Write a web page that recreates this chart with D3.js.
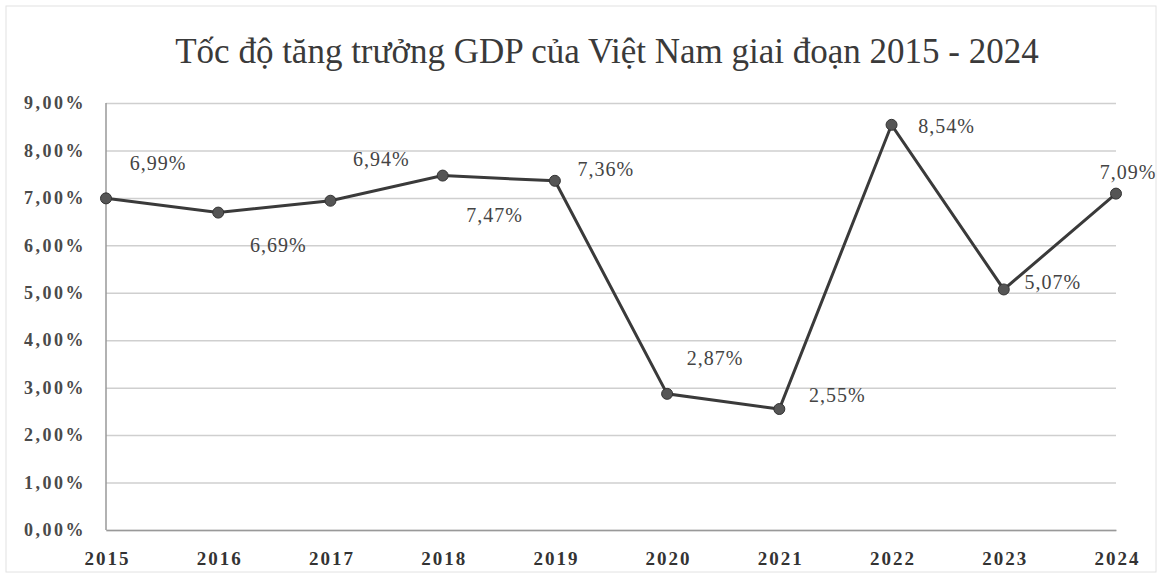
<!DOCTYPE html>
<html>
<head>
<meta charset="utf-8">
<script src="https://cdn.jsdelivr.net/npm/d3@7"></script>
<style>
  body { margin: 0; background: #fff; }
  svg { display: block; }
</style>
</head>
<body>
<svg id="chart"></svg>
<script>
const years = ["2015", "2016", "2017", "2018", "2019", "2020", "2021", "2022", "2023", "2024"];
const growth = [6.99, 6.69, 6.94, 7.47, 7.36, 2.87, 2.55, 8.54, 5.07, 7.09];
const yTicks = [0, 1, 2, 3, 4, 5, 6, 7, 8, 9];
// label offsets relative to each point (dx, dy)
const labelOffsets = [[52, -33], [60, 35], [51, -39], [52, 42], [51, -9], [48, -33], [58, -12], [55, 4], [49, -5], [12, -19]];

const width = 1162, height = 578;
const margin = { top: 103, right: 46, bottom: 48, left: 106 };
const innerW = width - margin.left - margin.right;
const innerH = height - margin.top - margin.bottom;

const fmt = v => v.toFixed(2).replace(".", ",") + "%";

const svg = d3.select("#chart")
    .attr("width", width)
    .attr("height", height);

// outer frame
svg.append("rect")
    .attr("x", 6).attr("y", 6)
    .attr("width", width - 12).attr("height", height - 12)
    .attr("fill", "#fff")
    .attr("stroke", "#e2e2e2");

// title
svg.append("text")
    .attr("x", 607)
    .attr("y", 63)
    .attr("text-anchor", "middle")
    .style("font-family", "'Liberation Serif', serif")
    .style("font-size", "35px")
    .attr("fill", "#3a3a3a")
    .text("Tốc độ tăng trưởng GDP của Việt Nam giai đoạn 2015 - 2024");

const g = svg.append("g")
    .attr("transform", `translate(${margin.left}, ${margin.top})`);

const x = d3.scalePoint()
    .domain(years)
    .range([0, innerW]);

const y = d3.scaleLinear()
    .domain([0, 9])
    .range([innerH, 0]);

// gridlines + y labels
const yAxis = g.append("g")
    .call(d3.axisLeft(y).tickValues(yTicks).tickSize(-innerW).tickPadding(20).tickFormat(d => fmt(d)));
yAxis.select(".domain").remove();
yAxis.selectAll(".tick line")
    .attr("stroke", "#cfcfcf")
    .attr("stroke-width", 1.5);
yAxis.selectAll("text")
    .style("font-family", "'Liberation Serif', serif")
    .style("font-size", "18px")
    .style("font-weight", "bold")
    .style("letter-spacing", "2.5px")
    .attr("fill", "#4a4a4a");

// left axis line
g.append("line")
    .attr("x1", 0).attr("x2", 0)
    .attr("y1", 0).attr("y2", innerH)
    .attr("stroke", "#999")
    .attr("stroke-width", 1.5);

// x axis
const xAxis = g.append("g")
    .attr("transform", `translate(0, ${innerH})`)
    .call(d3.axisBottom(x).tickSize(0).tickPadding(22));
xAxis.select(".domain").attr("stroke", "#999").attr("stroke-width", 1.5);
xAxis.selectAll("text")
    .style("font-family", "'Liberation Serif', serif")
    .style("font-size", "19px")
    .style("font-weight", "bold")
    .style("letter-spacing", "2px")
    .attr("dx", "1px")
    .attr("fill", "#333");

const data = years.map((yr, i) => ({ year: yr, value: growth[i], off: labelOffsets[i] }));

// line
g.append("path")
    .datum(data)
    .attr("fill", "none")
    .attr("stroke", "#3a3a3a")
    .attr("stroke-width", 3)
    .attr("d", d3.line().x(d => x(d.year)).y(d => y(d.value)));

// markers
g.selectAll(".dot")
    .data(data)
    .enter()
    .append("circle")
    .attr("class", "dot")
    .attr("cx", d => x(d.year))
    .attr("cy", d => y(d.value))
    .attr("r", 5.5)
    .attr("fill", "#555")
    .attr("stroke", "#333")
    .attr("stroke-width", 1);

// data labels
g.selectAll(".lbl")
    .data(data)
    .enter()
    .append("text")
    .attr("class", "lbl")
    .attr("x", d => x(d.year) + d.off[0])
    .attr("y", d => y(d.value) + d.off[1])
    .attr("text-anchor", "middle")
    .attr("dominant-baseline", "middle")
    .style("font-family", "'Liberation Serif', serif")
    .style("font-size", "20px")
    .style("letter-spacing", "1px")
    .attr("fill", "#444")
    .text(d => fmt(d.value));
</script>
</body>
</html>
